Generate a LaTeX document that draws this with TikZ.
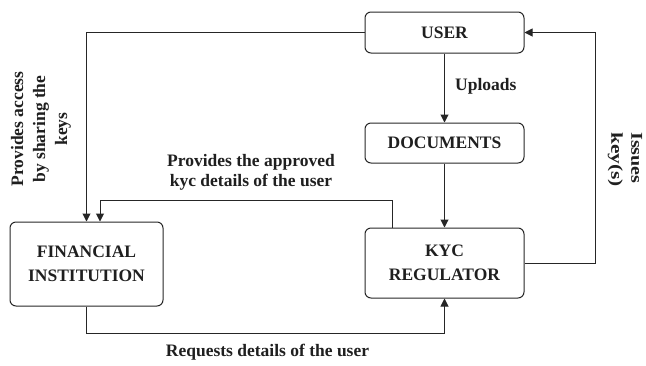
\documentclass[tikz,border=0pt]{standalone}
\usepackage{fontspec}
\usepackage{graphicx}
\setmainfont{Liberation Serif}
\usetikzlibrary{arrows.meta}
\begin{document}
\begin{tikzpicture}[x=1pt,y=-1pt,
  box/.style={draw=black!85, line width=1pt, rounded corners=6pt, inner sep=0pt, align=center,
    font=\fontsize{17.5}{24}\selectfont\bfseries, text=black!88},
  lbl/.style={inner sep=0pt, align=center, font=\fontsize{17.5}{20}\selectfont\bfseries, text=black!88},
  conn/.style={draw=black!85, line width=1pt, -{Triangle[length=8pt,width=8pt]}}
]
\useasboundingbox (0,0) rectangle (646,365);
\node[box, minimum width=159pt, minimum height=41pt] (user) at (444.5,32.5) {USER};
\node[box, minimum width=159pt, minimum height=40pt] (doc) at (444.5,143) {DOCUMENTS};
\node[box, minimum width=159pt, minimum height=70pt] (kyc) at (444.5,263) {KYC\\REGULATOR};
\node[box, minimum width=153pt, minimum height=84pt] (fi) at (86.5,264) {FINANCIAL\\INSTITUTION};

\coordinate (c1) at (86.5,32.5);
\coordinate (c2) at (392.7,200.7);
\coordinate (c3) at (100,200.7);
\coordinate (c4) at (86.5,333.3);
\coordinate (c5) at (444.5,333.3);
\coordinate (c6) at (595,263);
\coordinate (c7) at (595,32.5);

\draw[conn] (user.south) -- (doc.north);
\draw[conn] (doc.south) -- (kyc.north);
\draw[conn] (user.west) -- (c1) -- (fi.north);
\draw[conn] (kyc.north -| c2) -- (c2) -- (c3) -- (fi.north -| c3);
\draw[conn] (fi.south) -- (c4) -- (c5) -- (kyc.south);
\draw[conn] (kyc.east) -- (c6) -- (c7) -- (user.east);

\node[lbl, anchor=west] (up) at (455,86) {Uploads};
\node[lbl] (appr) at (251,172) {Provides the approved\\kyc details of the user};
\node[lbl] (req) at (267.5,352) {Requests details of the user};
\node[lbl, rotate=90, font=\fontsize{17.5}{22}\selectfont\bfseries] (acc) at (41,129) {Provides access\\by sharing the\\keys};
\node[lbl, rotate=-90, anchor=west, align=left, font=\fontsize{16.5}{20}\selectfont\bfseries] (iss) at (625,132) {\scalebox{1.22}[1]{Issues}\\\scalebox{1.3}[1]{key(s)}};
\end{tikzpicture}
\end{document}
